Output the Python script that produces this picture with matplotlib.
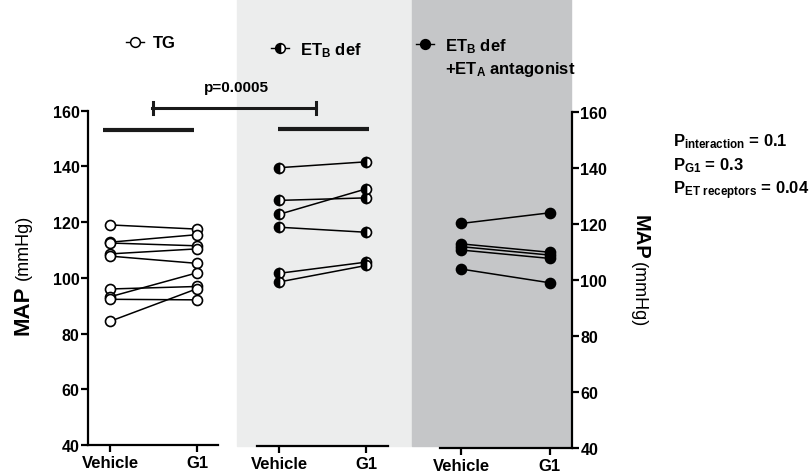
import matplotlib
matplotlib.use("Agg")
import matplotlib.pyplot as plt
from matplotlib.lines import Line2D
from matplotlib.patches import Rectangle

plt.rcParams['font.family'] = ['Liberation Sans', 'DejaVu Sans']
plt.rcParams['font.weight'] = 'bold'
plt.rcParams['mathtext.fontset'] = 'custom'
plt.rcParams['mathtext.rm'] = 'Liberation Sans:bold'
plt.rcParams['mathtext.bf'] = 'Liberation Sans:bold'
plt.rcParams['mathtext.it'] = 'Liberation Sans:bold:italic'
plt.rcParams['mathtext.default'] = 'rm'

# data (MAP, mmHg), one pair per animal
conditions = ["Vehicle", "G1"]
tg_vehicle = [119.0, 112.8, 112.5, 108.6, 107.8, 96.0, 93.2, 92.3, 84.4]
tg_g1 = [117.5, 115.5, 111.5, 110.4, 105.2, 96.9, 101.8, 92.1, 96.1]
etb_vehicle = [139.6, 127.9, 122.9, 118.3, 101.8, 98.7]
etb_g1 = [141.7, 128.8, 132.0, 116.5, 105.8, 104.6]
anta_vehicle = [120.2, 112.9, 111.9, 110.7, 103.9]
anta_g1 = [124.0, 109.9, 108.9, 107.7, 99.0]
tg_mean_bar = 153.1
etb_mean_bar = 153.5
p_text = "p=0.0005"
stats_lines = [r"P$_{interaction}$ = 0.1", r"P$_{G1}$ = 0.3", r"P$_{ET\ receptors}$ = 0.04"]

W, H = 811, 477
light = "#ECEDED"
dark = "#C5C6C8"


def fx(x):
    return x / W


def fy(y):
    return 1 - y / H


def box(l, r, t, b):
    return [l / W, 1 - b / H, (r - l) / W, (b - t) / H]


fig = plt.figure(figsize=(W / 100, H / 100), dpi=100)

# shaded backgrounds
fig.add_artist(Rectangle((fx(237), fy(447)), (412 - 237) / W, 447 / H,
                         transform=fig.transFigure, color=light, zorder=-2))
fig.add_artist(Rectangle((fx(412), fy(447)), (571 - 412) / W, 447 / H,
                         transform=fig.transFigure, color=dark, zorder=-2))

ax1 = fig.add_axes(box(88, 218, 111.7, 446))
ax2 = fig.add_axes(box(257, 388, 111.7, 447))
ax3 = fig.add_axes(box(440, 572, 113, 449))

panels = [
    (ax1, tg_vehicle, tg_g1, dict(mfc="white"), (-0.253, 1.241)),
    (ax2, etb_vehicle, etb_g1, dict(mfc="black", fillstyle="left", mfcalt="white"), (-0.253, 1.253)),
    (ax3, anta_vehicle, anta_g1, dict(mfc="black"), (-0.24, 1.25)),
]

for ax, veh, g1, mstyle, xl in panels:
    ax.patch.set_facecolor("none")
    for v, g in zip(veh, g1):
        ax.plot([0, 1], [v, g], color="black", lw=1.1, marker="o", ms=7.2,
                mec="black", mew=1.2, clip_on=False, **mstyle)
    ax.set_xlim(*xl)
    ax.set_ylim(40, 160)
    ax.set_xticks([0, 1])
    ax.set_xticklabels(conditions, fontsize=12, fontweight="bold")
    for s in ["top", "right", "left"]:
        ax.spines[s].set_visible(False)
    ax.spines["bottom"].set_linewidth(1.6)
    ax.tick_params(axis="x", length=5, width=1.6, pad=2)

# left axis
ax1.spines["left"].set_visible(True)
ax1.spines["left"].set_linewidth(1.6)
ax1.set_yticks(range(40, 161, 20))
ax1.tick_params(axis="y", length=5, width=1.6, pad=1, labelsize=11.5)
for t in ax1.get_yticklabels():
    t.set_fontweight("bold")

ax2.set_yticks([])

# right axis
ax3.spines["right"].set_visible(True)
ax3.spines["right"].set_linewidth(1.6)
ax3.yaxis.tick_right()
ax3.set_yticks(range(40, 161, 20))
ax3.tick_params(axis="y", length=5, width=1.6, pad=1, labelsize=11.5)
for t in ax3.get_yticklabels():
    t.set_fontweight("bold")

# mean bars
ax1.plot([-0.08, 0.966], [tg_mean_bar, tg_mean_bar], color="#1a1a1a", lw=3, solid_capstyle="butt")
ax2.plot([-0.01, 1.04], [etb_mean_bar, etb_mean_bar], color="#1a1a1a", lw=3, solid_capstyle="butt")

# significance bracket
fig.add_artist(Line2D([fx(152), fx(316)], [fy(108.5), fy(108.5)], transform=fig.transFigure,
                      color="#1a1a1a", lw=2.2))
for xc in [152.5, 315.5]:
    fig.add_artist(Line2D([fx(xc), fx(xc)], [fy(102.5), fy(115)], transform=fig.transFigure,
                          color="#1a1a1a", lw=2.2))
fig.text(fx(236.7), fy(91.7), p_text, ha="center", va="baseline", fontsize=11, fontweight="bold")

# legend entries
legend_items = [
    (135, 42.7, dict(mfc="white"), 153, [("TG", 48.3)]),
    (280, 49.3, dict(mfc="black", fillstyle="left", markerfacecoloralt="white"), 300,
     [(r"ET$_B$ def", 55)]),
    (425, 45.3, dict(mfc="black"), 445,
     [(r"ET$_B$ def", 51.7), (r"+ET$_A$ antagonist", 74.3)]),
]
for mx, my, mst, tx, lines in legend_items:
    fig.add_artist(Line2D([fx(mx - 9), fx(mx + 9)], [fy(my), fy(my)], transform=fig.transFigure,
                          color="black", lw=1))
    fig.add_artist(Line2D([fx(mx)], [fy(my)], transform=fig.transFigure, marker="o", ms=7,
                          mec="black", mew=1.1, linestyle="none", **mst))
    for txt, by in lines:
        fig.text(fx(tx), fy(by), txt, ha="left", va="baseline", fontsize=12, fontweight="bold")

# y labels
fig.text(fx(23), fy(310), "MAP", rotation=90, ha="center", va="center", fontsize=16, fontweight="bold")
fig.text(fx(23), fy(247), "(mmHg)", rotation=90, ha="center", va="center", fontsize=13, fontweight="normal")
fig.text(fx(640), fy(237), "MAP", rotation=270, ha="center", va="center", fontsize=14.5, fontweight="bold")
fig.text(fx(638), fy(295), "(mmHg)", rotation=270, ha="center", va="center", fontsize=13, fontweight="normal")

# statistics text
for txt, by in zip(stats_lines, [146.7, 170.7, 194.3]):
    fig.text(fx(673), fy(by), txt, ha="left", va="baseline", fontsize=12, fontweight="bold")

fig.savefig("out.png", dpi=100)
